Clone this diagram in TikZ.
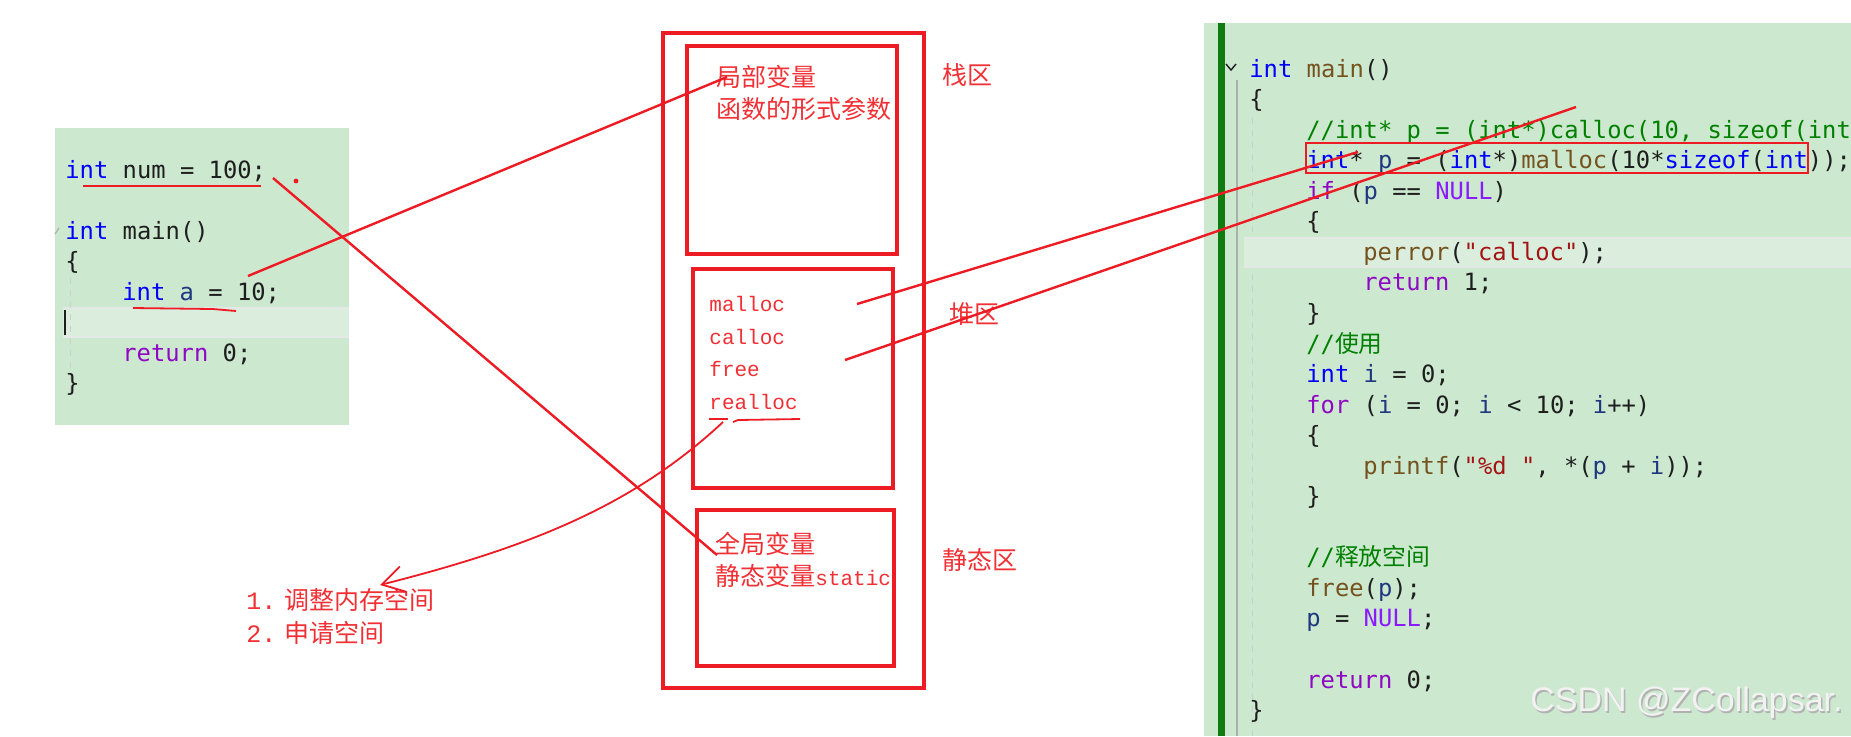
\documentclass[tikz,border=0pt]{standalone}
\usepackage{fontspec}
\usepackage{tikz}
\usetikzlibrary{arrows.meta,positioning}
\newfontfamily\codefont{DejaVu Sans Mono}
\newfontfamily\cjk{Noto Sans CJK SC}
\newfontfamily\labelmono{Liberation Mono}
\newfontfamily\markfont{Liberation Sans}
\definecolor{PaintRed}{RGB}{237,28,36}
\definecolor{LabelRed}{RGB}{240,48,52}
\definecolor{EditorGreen}{RGB}{204,232,207}
\definecolor{LineGreen}{RGB}{219,238,221}
\definecolor{LineEdge}{RGB}{228,233,229}
\definecolor{GutterGreen}{RGB}{16,124,16}
\definecolor{GuideGray}{RGB}{170,176,171}
\definecolor{KeyBlue}{RGB}{0,0,255}
\definecolor{CtlPurple}{RGB}{143,8,196}
\definecolor{FuncBrown}{RGB}{116,83,31}
\definecolor{CommentGreen}{RGB}{0,128,0}
\definecolor{VarNavy}{RGB}{31,55,127}
\definecolor{MacroViolet}{RGB}{138,27,255}
\definecolor{StrRed}{RGB}{163,21,21}
\definecolor{CodeInk}{RGB}{30,30,30}
\newcommand{\codekw}[1]{\textcolor{KeyBlue}{#1}}
\newcommand{\codectl}[1]{\textcolor{CtlPurple}{#1}}
\newcommand{\codefn}[1]{\textcolor{FuncBrown}{#1}}
\newcommand{\codecm}[1]{\textcolor{CommentGreen}{#1}}
\newcommand{\codevar}[1]{\textcolor{VarNavy}{#1}}
\newcommand{\codemac}[1]{\textcolor{MacroViolet}{#1}}
\newcommand{\codestr}[1]{\textcolor{StrRed}{#1}}
\tikzset{
  codeline/.style={anchor=base west,inner sep=0pt,text=CodeInk,
    font=\codefont\fontsize{11.9}{14}\selectfont},
  zone/.style={draw=PaintRed,line width=1.6pt,inner sep=0pt},
  zonelabel/.style={anchor=west,inner sep=0pt,text=LabelRed,
    font=\cjk\fontsize{12.5}{15}\selectfont},
  heapfn/.style={anchor=base west,inner sep=0pt,text=LabelRed,
    font=\labelmono\fontsize{10.5}{13}\selectfont},
  link/.style={PaintRed,line width=1.2pt},
  scribble/.style={PaintRed,line width=0.9pt},
  watermark/.style={anchor=west,inner sep=0pt,
    font=\markfont\fontsize{17}{20}\selectfont}
}

\begin{document}
\begin{tikzpicture}[
  x=0.5pt,
  y=-0.5pt,
  node distance=4pt
]
\useasboundingbox (0,0) rectangle (1851,736);
\fill[white] (0,0) rectangle (1851,736);

% left editor
\fill[EditorGreen] (55,128) rectangle (349,425);
\fill[LineGreen] (63,308) rectangle (349,337);
\draw[LineEdge,line width=1pt] (63,308) -- (349,308) (63,337) -- (349,337);
\draw[CodeInk,line width=0.8pt] (65,310) -- (65,335);
\draw[GuideGray!60,dashed,line width=0.5pt] (70,278) -- (70,395);
\draw[GuideGray,line width=0.6pt] (55,234) -- (59,228);

\node[codeline] (numline) at (65,178) {\codekw{int} num = 100;};
\node[codeline] (mainleft) at (65,239) {\codekw{int} main()};
\node[codeline] (openleft) at (65,269.5) {\{};
\node[codeline] (aline) at (122,300) {\codekw{int} \codevar{a} = 10;};
\node[codeline] (retleft) at (122,361) {\codectl{return} 0;};
\node[codeline] (closeleft) at (65,391.5) {\}};

% right editor
\fill[EditorGreen] (1204,23) rectangle (1851,736);
\fill[GutterGreen] (1218,23) rectangle (1225,736);
\draw[GuideGray,line width=0.8pt] (1237,80) -- (1237,736);
\draw[GuideGray!60,dashed,line width=0.5pt] (1252,118) -- (1252,736);
\fill[LineGreen] (1244,238) rectangle (1851,267);
\draw[LineEdge,line width=1pt] (1244,238) -- (1851,238) (1244,267) -- (1851,267);
\draw[CodeInk,line width=0.7pt] (1226,64) -- (1231,70) -- (1236,64);

\node[codeline] (mainright) at (1249,77) {\codekw{int} \codefn{main}()};
\node[codeline] (open1) at (1249,107.5) {\{};
\node[codeline] (calloccm) at (1306,138.1) {\codecm{//int* p = (int*)calloc(10, sizeof(int));}};
\node[codeline] (mallocline) at (1306,168.7) {\codekw{int}* \codevar{p} = (\codekw{int}*)\codefn{malloc}(10*\codekw{sizeof}(\codekw{int}));};
\node[codeline] (ifline) at (1306,199.2) {\codectl{if} (\codevar{p} == \codemac{NULL})};
\node[codeline] (open2) at (1306,229.8) {\{};
\node[codeline] (perrline) at (1363,260.3) {\codefn{perror}(\codestr{"calloc"});};
\node[codeline] (ret1) at (1363,290.9) {\codectl{return} 1;};
\node[codeline] (close2) at (1306,321.4) {\}};
\node[codeline] (usecm) at (1306,352) {\codecm{//{\cjk 使用}}};
\node[codeline] (iline) at (1306,382.5) {\codekw{int} \codevar{i} = 0;};
\node[codeline] (forline) at (1306,413) {\codectl{for} (\codevar{i} = 0; \codevar{i} < 10; \codevar{i}++)};
\node[codeline] (open3) at (1306,443.6) {\{};
\node[codeline] (printline) at (1363,474.2) {\codefn{printf}(\codestr{"\%d "}, *(\codevar{p} + \codevar{i}));};
\node[codeline] (close3) at (1306,504.7) {\}};
\node[codeline] (freecm) at (1306,565.8) {\codecm{//{\cjk 释放空间}}};
\node[codeline] (freeline) at (1306,596.4) {\codefn{free}(\codevar{p});};
\node[codeline] (nullline) at (1306,626.9) {\codevar{p} = \codemac{NULL};};
\node[codeline] (ret0) at (1306,688) {\codectl{return} 0;};
\node[codeline] (close1) at (1249,718.6) {\}};
\node[zone,line width=1.4pt,minimum width=251pt,minimum height=15pt] (mallocbox) at (1557,158) {};

% memory zones
\node[zone,minimum width=130.5pt,minimum height=327.5pt] (memory) at (793.5,360.5) {};
\node[zone,minimum width=105pt,minimum height=104pt] (stack) at (792,150) {};
\node[zone,minimum width=100pt,minimum height=109.5pt] (heap) at (793,378.5) {};
\node[zone,minimum width=98.5pt,minimum height=78pt] (static) at (795.5,588) {};

\node[zonelabel] (local) at (716,77) {局部变量};
\node[zonelabel,below=of local.south west,anchor=north west] (params) {函数的形式参数};
\node[zonelabel] (stacktag) at (942,75) {栈区};
\node[heapfn] (fmalloc) at (709,311) {malloc};
\node[heapfn] (fcalloc) at (709,344) {calloc};
\node[heapfn] (ffree) at (709,376) {free};
\node[heapfn] (frealloc) at (709,409) {realloc};
\node[zonelabel] (heaptag) at (949,314) {堆区};
\node[zonelabel] (global) at (715,544) {全局变量};
\node[zonelabel,below=of global.south west,anchor=north west] (statvar) {静态变量{\labelmono\fontsize{10.5}{15}\selectfont static}};
\node[zonelabel] (stattag) at (942,560) {静态区};
\node[zonelabel] (adjust) at (246,600) {\makebox[19pt][l]{\labelmono 1.}调整内存空间};
\node[zonelabel] (request) at (246,633) {\makebox[19pt][l]{\labelmono 2.}申请空间};

% red marks
\draw[scribble] (83,186) -- (261,186);
\draw[scribble] (133,308) -- (213,309) -- (236,311);
\draw[scribble] (709,419) -- (728,419);
\draw[scribble] (733,422) -- (738,420) -- (800,419);
\fill[PaintRed] (296,181) circle (1.2pt);

\coordinate (numEnd) at (273,178);
\coordinate (aEnd) at (248,276);
\coordinate (localHit) at (727,77);
\coordinate (globalHit) at (717,555);
\coordinate (mallocHit) at (857,304);
\coordinate (callocHit) at (845,360);
\coordinate (mallocCode) at (1358,152);
\coordinate (callocCode) at (1576,107);
\coordinate (reallocHook) at (723,422);
\coordinate (adjustTip) at (380,585);

\draw[link] (aEnd) -- (localHit);
\draw[link] (numEnd) -- (globalHit);
\draw[link] (mallocHit) -- (mallocCode);
\draw[link] (callocHit) -- (callocCode);
\draw[scribble,-{Straight Barb[length=11pt,width=13pt]}] (reallocHook)
  .. controls (633,506) and (530,547) .. (adjustTip);

\node[watermark,text=gray!60] (markshade) at (1531.5,704.5) {CSDN @ZCollapsar.};
\node[watermark,text=white!90!gray] (mark) at (1530,703) {CSDN @ZCollapsar.};

\end{tikzpicture}
\end{document}
